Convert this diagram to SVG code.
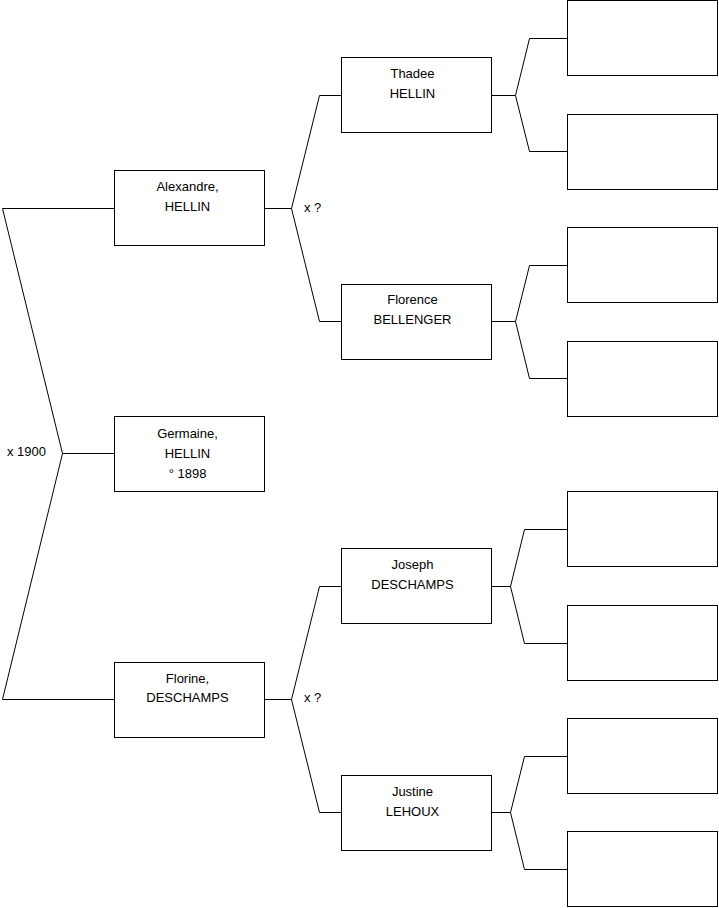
<svg xmlns="http://www.w3.org/2000/svg" width="719" height="908" viewBox="0 0 719 908">
<style>
.box{fill:#fff;stroke:#000;stroke-width:1}
.ln{fill:none;stroke:#000;stroke-width:1}
text{font-family:"Liberation Sans",Arial,sans-serif;font-size:13px;fill:#000}
.c{text-anchor:middle}
</style>
<rect width="719" height="908" fill="#fff"/>
<g id="connectors">
<path class="ln" d="M114,208.5 H2.5 L62.5,453.5 L2.5,699.5 H114 M62.5,453.5 H114"/>
<path class="ln" d="M265,208.5 H291.5 L319.5,95.5 H341 M291.5,208.5 L319.5,321.5 H341"/>
<path class="ln" d="M265,699.5 H291.5 L319.5,586.5 H341 M291.5,699.5 L319.5,812.5 H341"/>
<path class="ln" d="M492,95.5 H515.5 L529.5,38.5 H567 M515.5,95.5 L529.5,151.5 H567"/>
<path class="ln" d="M492,321.5 H515.5 L529.5,265.5 H567 M515.5,321.5 L529.5,378.5 H567"/>
<path class="ln" d="M492,586.5 H510.5 L524.5,529.5 H567 M510.5,586.5 L524.5,643.5 H567"/>
<path class="ln" d="M492,812.5 H510.5 L524.5,756.5 H567 M510.5,812.5 L524.5,869.5 H567"/>
<text x="304" y="212">x ?</text>
<text x="304" y="702">x ?</text>
<text x="7" y="456">x 1900</text>
</g>
<g id="alexandre"><rect class="box" x="114.5" y="170.5" width="150" height="75"/><text class="c" x="187.5" y="191">Alexandre,</text><text class="c" x="187.5" y="211">HELLIN</text></g>
<g id="germaine"><rect class="box" x="114.5" y="416.5" width="150" height="75"/><text class="c" x="187.5" y="438">Germaine,</text><text class="c" x="187.5" y="458">HELLIN</text><text class="c" x="187.5" y="478">° 1898</text></g>
<g id="florine"><rect class="box" x="114.5" y="662.5" width="150" height="75"/><text class="c" x="187.5" y="683">Florine,</text><text class="c" x="187.5" y="702">DESCHAMPS</text></g>
<g id="thadee"><rect class="box" x="341.5" y="57.5" width="150" height="75"/><text class="c" x="412.5" y="78">Thadee</text><text class="c" x="412.5" y="98">HELLIN</text></g>
<g id="florence"><rect class="box" x="341.5" y="284.5" width="150" height="75"/><text class="c" x="412.5" y="304">Florence</text><text class="c" x="412.5" y="324">BELLENGER</text></g>
<g id="joseph"><rect class="box" x="341.5" y="548.5" width="150" height="75"/><text class="c" x="412.5" y="569">Joseph</text><text class="c" x="412.5" y="589">DESCHAMPS</text></g>
<g id="justine"><rect class="box" x="341.5" y="775.5" width="150" height="75"/><text class="c" x="412.5" y="796">Justine</text><text class="c" x="412.5" y="816">LEHOUX</text></g>
<g id="p1"><rect class="box" x="567.5" y="0.5" width="150" height="75"/></g>
<g id="p2"><rect class="box" x="567.5" y="114.5" width="150" height="75"/></g>
<g id="p3"><rect class="box" x="567.5" y="227.5" width="150" height="75"/></g>
<g id="p4"><rect class="box" x="567.5" y="341.5" width="150" height="75"/></g>
<g id="p5"><rect class="box" x="567.5" y="491.5" width="150" height="75"/></g>
<g id="p6"><rect class="box" x="567.5" y="605.5" width="150" height="75"/></g>
<g id="p7"><rect class="box" x="567.5" y="718.5" width="150" height="75"/></g>
<g id="p8"><rect class="box" x="567.5" y="831.5" width="150" height="75"/></g>
</svg>
